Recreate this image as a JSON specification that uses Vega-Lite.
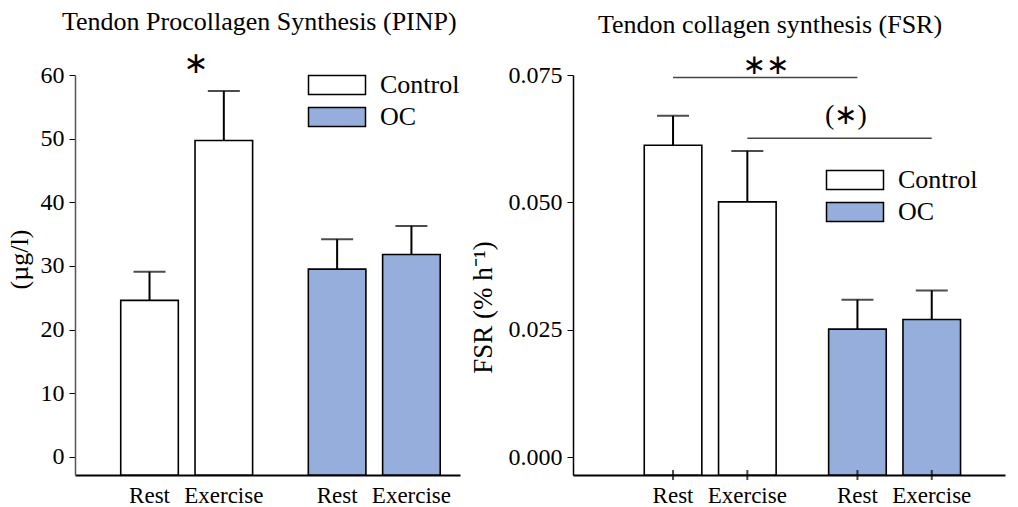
{
  "$schema": "https://vega.github.io/schema/vega-lite/v6.json",
  "background": "white",
  "padding": {"left": 6, "top": 8, "right": 5, "bottom": 2},
  "spacing": 9,
  "config": {
    "font": "Liberation Serif",
    "view": {"stroke": null},
    "axis": {
      "grid": false,
      "labelFont": "Liberation Serif",
      "labelFontSize": 24,
      "labelColor": "black",
      "titleFont": "Liberation Serif",
      "titleFontSize": 26,
      "titleFontWeight": "normal",
      "titleColor": "black",
      "tickColor": "black",
      "domainColor": "black"
    },
    "text": {"font": "Liberation Serif"},
    "title": {"font": "Liberation Serif", "fontSize": 26, "fontWeight": "normal", "color": "black", "anchor": "start", "frame": "group"},
    "legend": {
      "orient": "none",
      "title": null,
      "symbolType": "M-3,-1H3V1H-3Z",
      "symbolSize": 361,
      "symbolStrokeColor": "black",
      "symbolStrokeWidth": 1.5,
      "symbolOpacity": 1,
      "labelFont": "Liberation Serif",
      "labelFontSize": 26,
      "labelColor": "black",
      "labelOffset": 30,
      "rowPadding": 6,
      "padding": 0,
      "labelLimit": 300
    }
  },
  "datasets": {
    "pinp": [
      {"group": "Control", "cond": "Rest", "mean": 24.6, "upper": 29.1},
      {"group": "Control", "cond": "Exercise", "mean": 49.7, "upper": 57.5},
      {"group": "OC", "cond": "Rest", "mean": 29.5, "upper": 34.2},
      {"group": "OC", "cond": "Exercise", "mean": 31.8, "upper": 36.3}
    ],
    "fsr": [
      {"group": "Control", "cond": "Rest", "mean": 0.0612, "upper": 0.0670},
      {"group": "Control", "cond": "Exercise", "mean": 0.0501, "upper": 0.0601},
      {"group": "OC", "cond": "Rest", "mean": 0.0251, "upper": 0.0309},
      {"group": "OC", "cond": "Exercise", "mean": 0.0270, "upper": 0.0327}
    ],
    "pinp_ann": [
      {"group": "Control", "cond": "Exercise", "y": 61.8, "label": "∗"}
    ],
    "fsr_lines": [
      {"cmp": "a", "group": "Control", "cond": "Rest", "y": 0.0745},
      {"cmp": "a", "group": "OC", "cond": "Rest", "y": 0.0745},
      {"cmp": "b", "group": "Control", "cond": "Exercise", "y": 0.0626},
      {"cmp": "b", "group": "OC", "cond": "Exercise", "y": 0.0626}
    ],
    "fsr_ann": [
      {"group": "OC", "cond": "Rest", "y": 0.0768, "label": "∗∗"},
      {"group": "OC", "cond": "Rest", "y": 0.0669, "label": "(∗)"}
    ]
  },
  "resolve": {"legend": {"fill": "independent"}},
  "hconcat": [
    {
      "title": {"text": "Tendon Procollagen Synthesis (PINP)", "dx": -13, "offset": 14, "font": "Liberation Serif", "fontSize": 26},
      "width": 385,
      "height": 400,
      "encoding": {
        "x": {"field": "group", "type": "nominal", "scale": {"domain": ["Control", "OC"], "paddingInner": 0.297, "paddingOuter": 0.1746, "align": 0.698}, "axis": {"title": null, "labels": false, "ticks": false, "domainWidth": 2}},
        "xOffset": {"field": "cond", "type": "nominal", "scale": {"domain": ["Rest", "Exercise"], "paddingInner": 0.225, "paddingOuter": 0}}
      },
      "layer": [
        {
          "data": {"name": "pinp"},
          "mark": {"type": "bar", "stroke": "black", "strokeWidth": 1.6, "fillOpacity": 1},
          "encoding": {
            "y": {"field": "mean", "type": "quantitative", "scale": {"domain": [-2.83, 60], "nice": false, "zero": false}, "axis": {"title": "(µg/l)", "values": [0, 10, 20, 30, 40, 50, 60], "tickSize": 6, "labelPadding": 5, "labelFont": "Liberation Serif", "labelFontSize": 24, "titleFont": "Liberation Serif", "domainColor": "#555555", "domainWidth": 1.5, "titlePadding": 8, "titleY": 184}},
            "y2": {"datum": -2.83},
            "fill": {"field": "group", "type": "nominal", "scale": {"domain": ["Control", "OC"], "range": ["#ffffff", "#96aedb"]}, "legend": {"legendX": 249, "legendY": -3, "labelFont": "Liberation Serif", "labelFontSize": 26}}
          }
        },
        {
          "data": {"name": "pinp"},
          "mark": {"type": "rule", "color": "black", "strokeWidth": 2},
          "encoding": {
            "y": {"field": "mean", "type": "quantitative"},
            "y2": {"field": "upper"}
          }
        },
        {
          "data": {"name": "pinp"},
          "mark": {"type": "tick", "color": "black", "size": 32, "thickness": 2, "orient": "horizontal"},
          "encoding": {
            "y": {"field": "upper", "type": "quantitative"}
          }
        },
        {
          "data": {"name": "pinp"},
          "mark": {"type": "text", "font": "Liberation Serif", "fontSize": 23, "baseline": "alphabetic", "dy": 28, "color": "black"},
          "encoding": {
            "y": {"datum": -2.83},
            "text": {"field": "cond"}
          }
        },
        {
          "data": {"name": "pinp_ann"},
          "mark": {"type": "text", "fontSize": 30, "baseline": "middle", "dx": -28, "color": "black", "font": "DejaVu Sans"},
          "encoding": {
            "y": {"field": "y", "type": "quantitative"},
            "text": {"field": "label"}
          }
        }
      ]
    },
    {
      "title": {"text": "Tendon collagen synthesis (FSR)", "dx": 25, "offset": 14, "font": "Liberation Serif", "fontSize": 26},
      "width": 432,
      "height": 400,
      "encoding": {
        "x": {"field": "group", "type": "nominal", "scale": {"domain": ["Control", "OC"], "paddingInner": 0.2825, "paddingOuter": 0.3126, "align": 0.618}, "axis": {"title": null, "labels": false, "ticks": false, "domainWidth": 2}},
        "xOffset": {"field": "cond", "type": "nominal", "scale": {"domain": ["Rest", "Exercise"], "paddingInner": 0.22, "paddingOuter": 0}}
      },
      "layer": [
        {
          "data": {"name": "fsr"},
          "mark": {"type": "bar", "stroke": "black", "strokeWidth": 1.6, "fillOpacity": 1},
          "encoding": {
            "y": {"field": "mean", "type": "quantitative", "scale": {"domain": [-0.00353, 0.075], "nice": false, "zero": false}, "axis": {"title": "FSR (% h⁻¹)", "values": [0, 0.025, 0.05, 0.075], "format": ".3f", "tickSize": 6, "labelPadding": 5, "labelFont": "Liberation Serif", "labelFontSize": 24, "titleFont": "Liberation Serif", "titleFontSize": 27, "domainWidth": 1.5, "titlePadding": 11, "titleY": 232}},
            "y2": {"datum": -0.00353},
            "fill": {"field": "group", "type": "nominal", "scale": {"domain": ["Control", "OC"], "range": ["#ffffff", "#96aedb"]}, "legend": {"legendX": 269, "legendY": 92, "labelFont": "Liberation Serif", "labelFontSize": 26}}
          }
        },
        {
          "data": {"name": "fsr"},
          "mark": {"type": "rule", "color": "black", "strokeWidth": 2},
          "encoding": {
            "y": {"field": "mean", "type": "quantitative"},
            "y2": {"field": "upper"}
          }
        },
        {
          "data": {"name": "fsr"},
          "mark": {"type": "tick", "color": "black", "size": 32, "thickness": 2, "orient": "horizontal"},
          "encoding": {
            "y": {"field": "upper", "type": "quantitative"}
          }
        },
        {
          "data": {"name": "fsr"},
          "mark": {"type": "tick", "color": "black", "size": 10, "thickness": 2, "orient": "vertical"},
          "encoding": {
            "y": {"datum": -0.00353}
          }
        },
        {
          "data": {"name": "fsr"},
          "mark": {"type": "text", "font": "Liberation Serif", "fontSize": 23, "baseline": "alphabetic", "dy": 28, "color": "black"},
          "encoding": {
            "y": {"datum": -0.00353},
            "text": {"field": "cond"}
          }
        },
        {
          "data": {"name": "fsr_lines"},
          "mark": {"type": "line", "color": "#444444", "strokeWidth": 1.5},
          "encoding": {
            "y": {"field": "y", "type": "quantitative"},
            "detail": {"field": "cmp"}
          }
        },
        {
          "data": {"name": "fsr_ann"},
          "transform": [{"filter": "datum.label == '∗∗'"}],
          "mark": {"type": "text", "fontSize": 28, "baseline": "middle", "dx": -91.5, "color": "black", "font": "DejaVu Sans"},
          "encoding": {
            "y": {"field": "y", "type": "quantitative"},
            "text": {"field": "label"}
          }
        },
        {
          "data": {"name": "fsr_ann"},
          "transform": [{"filter": "datum.label == '(∗)'"}],
          "mark": {"type": "text", "font": "Liberation Serif", "fontSize": 28, "baseline": "middle", "dx": -11.5, "color": "black"},
          "encoding": {
            "y": {"field": "y", "type": "quantitative"},
            "text": {"field": "label"}
          }
        }
      ]
    }
  ]
}
